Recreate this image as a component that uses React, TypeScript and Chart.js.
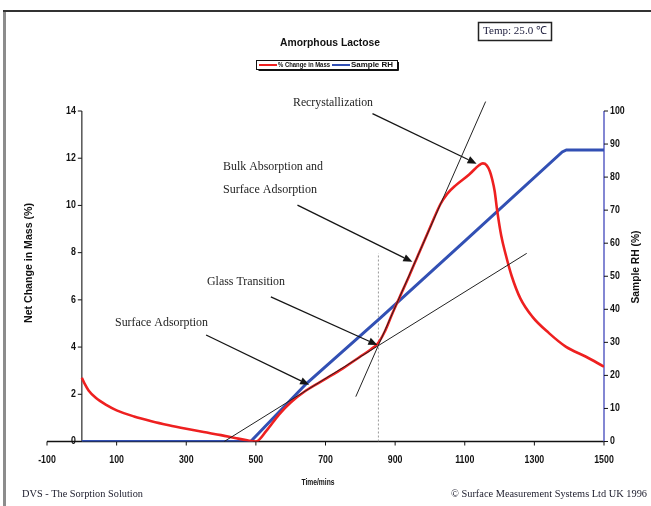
import React, { useEffect, useRef } from "react";
import { Chart, registerables } from "chart.js";

Chart.register(...registerables);

// ---------- data ----------
const massTime = [0, 8, 20, 40, 70, 100, 150, 200, 250, 300, 350, 400, 440, 475, 500, 530, 567, 600, 643, 700, 750, 800, 830, 850, 870, 890, 911, 940, 969, 1000, 1030, 1050, 1074, 1112, 1141, 1152, 1163, 1172, 1179, 1186, 1193, 1205, 1218, 1235, 1260, 1294, 1342, 1390, 1447, 1500];
const massValues = [2.7, 2.45, 2.15, 1.85, 1.55, 1.32, 1.06, 0.86, 0.69, 0.54, 0.4, 0.27, 0.15, 0.05, 0.0, 0.45, 1.15, 1.65, 2.15, 2.65, 3.1, 3.6, 3.9, 4.15, 4.65, 5.35, 6.05, 7.0, 8.0, 9.05, 10.05, 10.5, 10.85, 11.3, 11.7, 11.78, 11.7, 11.45, 11.1, 10.6, 9.8, 8.7, 7.9, 7.0, 6.05, 5.29, 4.59, 4.02, 3.6, 3.17];

const rhTime = [0, 485, 646, 857, 1100, 1380, 1392, 1500];
const rhValues = [0, 0, 17.6, 37.3, 60.6, 87.6, 88.2, 88.2];

const tangentSurfaceTime = [409, 1278];
const tangentSurfaceMass = [0, 7.97];
const tangentBulkTime = [787, 1160];
const tangentBulkMass = [1.9, 14.4];
const glassLineTime = [852, 852];
const glassLineMass = [0, 7.97];

const arrowLabels = ["Recrystallization", "Bulk Absorption", "Glass Transition", "Surface Adsorption"];
const arrowFromTime = [835, 619.5, 543, 357];
const arrowFromMass = [13.89, 10.01, 6.13, 4.51];
const arrowToTime = [1134, 949.5, 849, 653];
const arrowToMass = [11.77, 7.61, 4.09, 2.4];

const xTicks = [-100, 100, 300, 500, 700, 900, 1100, 1300, 1500];
const massTicks = [0, 2, 4, 6, 8, 10, 12, 14];
const rhTicks = [0, 10, 20, 30, 40, 50, 60, 70, 80, 90, 100];

const RED = "#ee2020";
const BLUE = "#3250b4";

function pts(xs: number[], ys: number[]) {
  return xs.map((x, i) => ({ x, y: ys[i] }));
}

function fitText(ctx: CanvasRenderingContext2D, text: string, x: number, y: number, font: string, width: number, align: CanvasTextAlign = "left", color = "#111") {
  ctx.save();
  ctx.font = font;
  ctx.fillStyle = color;
  ctx.textBaseline = "middle";
  ctx.textAlign = align;
  const w = ctx.measureText(text).width;
  const s = width / w;
  ctx.translate(x, y);
  ctx.scale(s, 1);
  ctx.fillText(text, 0, 0);
  ctx.restore();
}

function tickText(ctx: CanvasRenderingContext2D, text: string, x: number, y: number, align: CanvasTextAlign) {
  ctx.save();
  ctx.font = 'bold 10px "Liberation Sans", Arial, sans-serif';
  ctx.fillStyle = "#111";
  ctx.textBaseline = "middle";
  ctx.textAlign = align;
  ctx.translate(x, y);
  ctx.scale(0.88, 1);
  ctx.fillText(text, 0, 0);
  ctx.restore();
}

const decor = {
  id: "decor",
  beforeDatasetsDraw(chart: any) {
    const ctx: CanvasRenderingContext2D = chart.ctx;
    const xs = chart.scales.x;
    const ys = chart.scales.y;
    const yr = chart.scales.y1;
    const area = chart.chartArea;
    ctx.save();
    // frame
    ctx.fillStyle = "#8c8c8c";
    ctx.fillRect(3, 11, 3, 495);
    ctx.fillStyle = "#333";
    ctx.fillRect(3, 10, 648, 2);

    // x axis
    ctx.strokeStyle = "#111";
    ctx.lineWidth = 1.5;
    ctx.beginPath();
    ctx.moveTo(area.left, ys.getPixelForValue(0));
    ctx.lineTo(area.right, ys.getPixelForValue(0));
    ctx.stroke();
    ctx.lineWidth = 1;
    xTicks.forEach((t) => {
      const px = xs.getPixelForValue(t);
      const py = ys.getPixelForValue(0);
      ctx.beginPath();
      ctx.moveTo(px, py);
      ctx.lineTo(px, py + 4);
      ctx.stroke();
      tickText(ctx, String(t), px, 460, "center");
    });

    // left axis at time 0
    const x0 = xs.getPixelForValue(0);
    ctx.strokeStyle = "#555";
    ctx.lineWidth = 1.5;
    ctx.beginPath();
    ctx.moveTo(x0, ys.getPixelForValue(14));
    ctx.lineTo(x0, ys.getPixelForValue(0));
    ctx.stroke();
    ctx.lineWidth = 1;
    ctx.strokeStyle = "#111";
    massTicks.forEach((v) => {
      const py = ys.getPixelForValue(v);
      ctx.beginPath();
      ctx.moveTo(x0 - 4, py);
      ctx.lineTo(x0, py);
      ctx.stroke();
      tickText(ctx, String(v), x0 - 6, py, "right");
    });

    // right axis
    ctx.strokeStyle = "#5a5fc4";
    ctx.lineWidth = 1.5;
    ctx.beginPath();
    ctx.moveTo(area.right, yr.getPixelForValue(100));
    ctx.lineTo(area.right, yr.getPixelForValue(0));
    ctx.stroke();
    ctx.strokeStyle = "#111";
    ctx.lineWidth = 1;
    rhTicks.forEach((v) => {
      const py = yr.getPixelForValue(v);
      ctx.beginPath();
      ctx.moveTo(area.right, py);
      ctx.lineTo(area.right + 4, py);
      ctx.stroke();
      tickText(ctx, String(v), area.right + 6, py, "left");
    });

    // axis titles
    const boldSans = 'bold 10px "Liberation Sans", Arial, sans-serif';
    ctx.save();
    ctx.translate(29, 263);
    ctx.rotate(-Math.PI / 2);
    fitText(ctx, "Net Change in Mass (%)", 0, 0, boldSans, 120, "center");
    ctx.restore();
    ctx.save();
    ctx.translate(636, 267);
    ctx.rotate(-Math.PI / 2);
    fitText(ctx, "Sample RH (%)", 0, 0, boldSans, 73, "center");
    ctx.restore();
    fitText(ctx, "Time/mins", 318, 483, 'bold 9px "Liberation Sans", Arial, sans-serif', 33, "center");

    // title
    fitText(ctx, "Amorphous Lactose", 330, 43, 'bold 11px "Liberation Sans", Arial, sans-serif', 100, "center");

    // legend
    ctx.fillStyle = "#fff";
    ctx.fillRect(256, 61, 141, 9);
    ctx.strokeStyle = "#111";
    ctx.lineWidth = 1;
    ctx.strokeRect(256.5, 60.5, 141, 9);
    ctx.beginPath();
    ctx.moveTo(258.5, 70.5);
    ctx.lineTo(398.5, 70.5);
    ctx.lineTo(398.5, 62);
    ctx.stroke();
    ctx.lineWidth = 2;
    ctx.strokeStyle = RED;
    ctx.beginPath();
    ctx.moveTo(259, 65);
    ctx.lineTo(277, 65);
    ctx.stroke();
    ctx.strokeStyle = BLUE;
    ctx.beginPath();
    ctx.moveTo(332, 65);
    ctx.lineTo(350, 65);
    ctx.stroke();
    const legFont = 'bold 7px "Liberation Sans", Arial, sans-serif';
    fitText(ctx, "% Change in Mass", 278, 65.5, legFont, 52, "left");
    fitText(ctx, "Sample RH", 351, 65.5, legFont, 42, "left");

    // temp box
    ctx.strokeStyle = "#222";
    ctx.lineWidth = 1.5;
    ctx.strokeRect(478.5, 22.5, 73, 18);
    fitText(ctx, "Temp: 25.0 \u2103", 515, 31.5, '11px "Liberation Serif", "Times New Roman", serif', 64, "center", "#1c1c3c");

    // footer
    const serif = '11px "Liberation Serif", "Times New Roman", serif';
    fitText(ctx, "DVS - The Sorption Solution", 22, 494, serif, 121, "left", "#1c1c2c");
    fitText(ctx, "\u00A9 Surface Measurement Systems Ltd UK 1996", 451, 494, serif, 196, "left", "#1c1c2c");
    ctx.restore();
  },
  afterDatasetsDraw(chart: any) {
    const ctx: CanvasRenderingContext2D = chart.ctx;
    const xs = chart.scales.x;
    const ys = chart.scales.y;
    ctx.save();
    // arrows
    for (let i = 0; i < arrowFromTime.length; i++) {
      const x1 = xs.getPixelForValue(arrowFromTime[i]);
      const y1 = ys.getPixelForValue(arrowFromMass[i]);
      const x2 = xs.getPixelForValue(arrowToTime[i]);
      const y2 = ys.getPixelForValue(arrowToMass[i]);
      const a = Math.atan2(y2 - y1, x2 - x1);
      const hl = 9, hw = 3.8;
      const bx = x2 - Math.cos(a) * hl;
      const by = y2 - Math.sin(a) * hl;
      ctx.strokeStyle = "#151515";
      ctx.lineWidth = 1.3;
      ctx.beginPath();
      ctx.moveTo(x1, y1);
      ctx.lineTo(bx, by);
      ctx.stroke();
      ctx.fillStyle = "#151515";
      ctx.beginPath();
      ctx.moveTo(x2, y2);
      ctx.lineTo(bx + Math.sin(a) * hw, by - Math.cos(a) * hw);
      ctx.lineTo(bx - Math.sin(a) * hw, by + Math.cos(a) * hw);
      ctx.closePath();
      ctx.fill();
    }
    // annotation texts
    const serif = '12px "Liberation Serif", "Times New Roman", serif';
    const col = "#1e1e1e";
    fitText(ctx, "Recrystallization", 293, 103, serif, 80, "left", col);
    fitText(ctx, "Bulk Absorption and", 223, 167, serif, 100, "left", col);
    fitText(ctx, "Surface Adsorption", 223, 190, serif, 94, "left", col);
    fitText(ctx, "Glass Transition", 207, 282, serif, 78, "left", col);
    fitText(ctx, "Surface Adsorption", 115, 323, serif, 93, "left", col);
    ctx.restore();
  },
};

export default function App() {
  const ref = useRef<HTMLCanvasElement>(null);
  useEffect(() => {
    if (!ref.current) return;
    const chart = new Chart(ref.current, {
      type: "line",
      data: {
        datasets: [
          {
            label: "% Change in Mass",
            data: pts(massTime, massValues),
            borderColor: RED,
            borderWidth: 2.6,
            pointRadius: 0,
            cubicInterpolationMode: "monotone",
            yAxisID: "y",
            order: 2,
          },
          {
            label: "Sample RH",
            data: pts(rhTime, rhValues),
            borderColor: BLUE,
            borderWidth: 3,
            pointRadius: 0,
            tension: 0,
            yAxisID: "y1",
            order: 3,
          },
          {
            label: "tangent surface",
            data: pts(tangentSurfaceTime, tangentSurfaceMass),
            borderColor: "#222",
            borderWidth: 1,
            pointRadius: 0,
            yAxisID: "y",
            clip: false,
            order: 1,
          },
          {
            label: "tangent bulk",
            data: pts(tangentBulkTime, tangentBulkMass),
            borderColor: "#222",
            borderWidth: 1,
            pointRadius: 0,
            yAxisID: "y",
            clip: false,
            order: 1,
          },
          {
            label: "glass transition",
            data: pts(glassLineTime, glassLineMass),
            borderColor: "#9a9a9a",
            borderWidth: 1,
            borderDash: [2, 2],
            pointRadius: 0,
            yAxisID: "y",
            order: 4,
          },
        ],
      },
      options: {
        responsive: false,
        animation: false,
        events: [],
        layout: { padding: { left: 47, right: 47, top: 111, bottom: 64.5 } },
        plugins: { legend: { display: false }, tooltip: { enabled: false }, title: { display: false } },
        scales: {
          x: { type: "linear", min: -100, max: 1500, display: false },
          y: { type: "linear", min: 0, max: 14, display: false },
          y1: { type: "linear", min: 0, max: 100, display: false, position: "right" },
        },
      },
      plugins: [decor],
    } as any);
    return () => chart.destroy();
  }, []);
  return (
    <div style={{ position: "fixed", left: 0, top: 0, width: 651, height: 506, background: "#fff" }}>
      <canvas ref={ref} width={651} height={506} style={{ display: "block", width: 651, height: 506 }} />
    </div>
  );
}
